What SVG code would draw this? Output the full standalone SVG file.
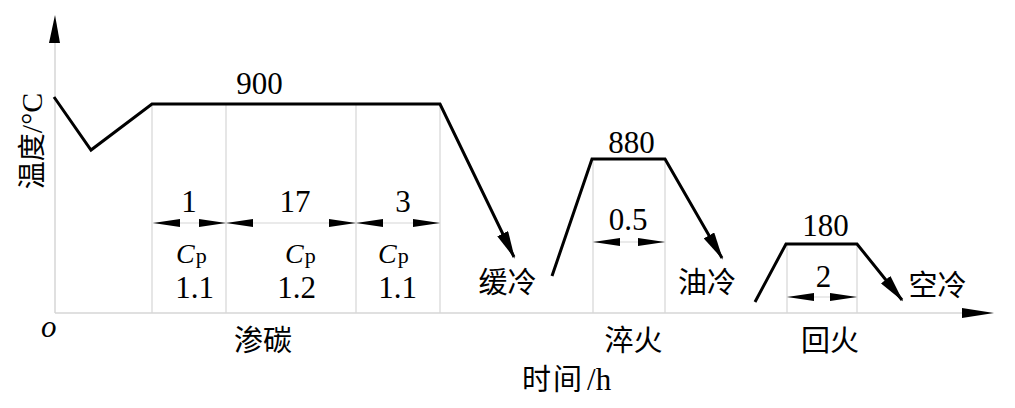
<svg xmlns="http://www.w3.org/2000/svg" width="1015" height="408" viewBox="0 0 1015 408">
<style>
.bg{fill:#ffffff}
.axis{stroke:#d6d6d6;stroke-width:1.5;fill:none}
.grid{stroke:#d6d6d6;stroke-width:1.2;fill:none}
.curve{stroke:#000;stroke-width:3;fill:none;stroke-linejoin:miter}
.dim{stroke:#d6d6d6;stroke-width:1.2;fill:none}
.num{font-family:"Liberation Serif","Times New Roman",serif;font-size:31px;fill:#000;text-anchor:middle}
.cjk{font-family:"Noto Sans CJK SC",sans-serif;font-size:29px;fill:#000;text-anchor:middle}
.ser{font-family:"Liberation Serif","Times New Roman",serif;fill:#000}
</style>
<defs>
<marker id="dimArrow" viewBox="0 0 27 8" refX="27" refY="4" markerWidth="27" markerHeight="8" markerUnits="userSpaceOnUse" orient="auto-start-reverse">
<path d="M0,0 L27,4 L0,8 z" fill="#000"/>
</marker>
<marker id="curveArrow" viewBox="0 0 28 12" refX="26" refY="6" markerWidth="28" markerHeight="12" markerUnits="userSpaceOnUse" orient="auto">
<path d="M0,0 L28,6 L0,12 z" fill="#000"/>
</marker>
</defs>
<rect class="bg" x="0" y="0" width="1015" height="408"/>

<g id="axes">
<line class="axis" x1="55" y1="313" x2="55" y2="40"/>
<line class="axis" x1="55" y1="313" x2="965" y2="313"/>
<polygon points="55,15 60,43 49,43" fill="#000"/>
<polygon points="994,313 962,308 962,318" fill="#000"/>
<text class="ser" x="41" y="337" font-size="31" font-style="italic">o</text>
<text transform="translate(42,141) rotate(-90)" text-anchor="middle"><tspan font-family="Noto Sans CJK SC, sans-serif" font-size="28">温度</tspan><tspan class="ser" font-size="30">/°C</tspan></text>
<text x="522" y="390"><tspan font-family="Noto Sans CJK SC, sans-serif" font-size="29" letter-spacing="2">时间</tspan><tspan class="ser" font-size="31" dx="3">/h</tspan></text>
</g>

<g id="grid">
<line class="grid" x1="152" y1="104" x2="152" y2="313"/>
<line class="grid" x1="226" y1="104" x2="226" y2="313"/>
<line class="grid" x1="356" y1="104" x2="356" y2="313"/>
<line class="grid" x1="440" y1="104" x2="440" y2="313"/>
<line class="grid" x1="593" y1="159" x2="593" y2="313"/>
<line class="grid" x1="665" y1="159" x2="665" y2="313"/>
<line class="grid" x1="787" y1="244" x2="787" y2="313"/>
<line class="grid" x1="857" y1="244" x2="857" y2="313"/>
</g>

<g id="connectors">
<polyline class="curve" points="54,97 91,150 152,104 440,104 514,257" marker-end="url(#curveArrow)"/>
<polyline class="curve" points="552,276 592,159 665,159 722,258" marker-end="url(#curveArrow)"/>
<polyline class="curve" points="755,302 786,244 857,244 902,300" marker-end="url(#curveArrow)"/>
<line class="dim" x1="153" y1="223" x2="226" y2="223" marker-start="url(#dimArrow)" marker-end="url(#dimArrow)"/>
<line class="dim" x1="226" y1="223" x2="356" y2="223" marker-start="url(#dimArrow)" marker-end="url(#dimArrow)"/>
<line class="dim" x1="356" y1="223" x2="440" y2="223" marker-start="url(#dimArrow)" marker-end="url(#dimArrow)"/>
<line class="dim" x1="593" y1="242" x2="665" y2="242" marker-start="url(#dimArrow)" marker-end="url(#dimArrow)"/>
<line class="dim" x1="787" y1="297" x2="857" y2="297" marker-start="url(#dimArrow)" marker-end="url(#dimArrow)"/>
</g>

<g id="carburize">
<text class="num" x="259.5" y="94">900</text>
<text class="num" x="189" y="212">1</text>
<text class="num" x="295" y="212">17</text>
<text class="num" x="403" y="212">3</text>
<text class="ser" x="176" y="263"><tspan font-size="28" font-style="italic">C</tspan><tspan font-size="22" dx="1">p</tspan></text>
<text class="ser" x="285" y="263"><tspan font-size="28" font-style="italic">C</tspan><tspan font-size="22" dx="1">p</tspan></text>
<text class="ser" x="378" y="263"><tspan font-size="28" font-style="italic">C</tspan><tspan font-size="22" dx="1">p</tspan></text>
<text class="num" x="194.5" y="298">1.1</text>
<text class="num" x="296.5" y="298">1.2</text>
<text class="num" x="397.5" y="298">1.1</text>
<text class="cjk" x="263" y="351">渗碳</text>
<text class="cjk" x="507.5" y="293">缓冷</text>
</g>

<g id="quench">
<text class="num" x="631.5" y="153">880</text>
<text class="num" x="628" y="230">0.5</text>
<text class="cjk" x="707" y="293">油冷</text>
<text class="cjk" x="633.5" y="351">淬火</text>
</g>

<g id="temper">
<text class="num" x="825.5" y="236">180</text>
<text class="num" x="823.5" y="287">2</text>
<text class="cjk" x="937.5" y="296">空冷</text>
<text class="cjk" x="830" y="351">回火</text>
</g>
</svg>
